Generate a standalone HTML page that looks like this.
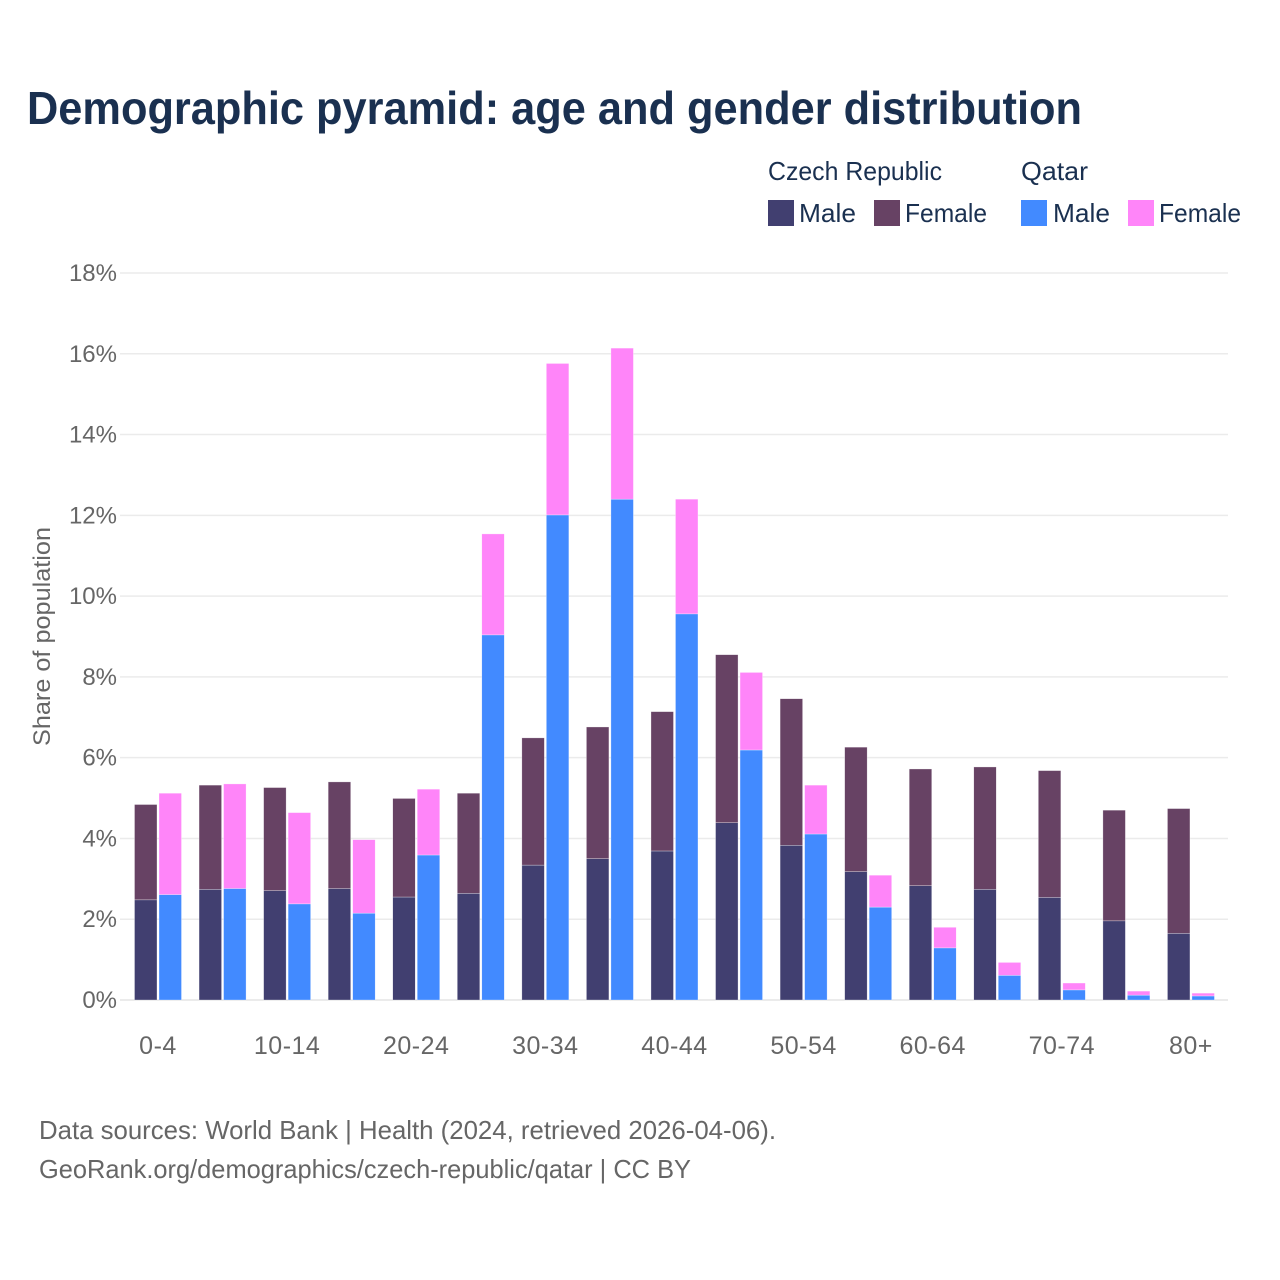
<!DOCTYPE html>
<html lang="en">
<head>
<meta charset="utf-8">
<title>Demographic pyramid: age and gender distribution</title>
<style>
html,body{margin:0;padding:0;background:#fff;}
svg{display:block;font-family:"Liberation Sans",sans-serif;}
</style>
</head>
<body>
<svg id="chart" xmlns="http://www.w3.org/2000/svg" width="1280" height="1280" viewBox="0 0 1280 1280">
  <rect x="0" y="0" width="1280" height="1280" fill="#ffffff"/>
  <text x="27" y="124" font-size="46" font-weight="700" fill="#1a3050" textLength="1055" lengthAdjust="spacingAndGlyphs">Demographic pyramid: age and gender distribution</text>
  <g id="grid"></g>
  <g id="bars"></g>
  <g id="yticks"></g>
  <g id="xticks"></g>
  <text transform="translate(50,636.5) rotate(-90)" text-anchor="middle" font-size="24" fill="#666666" textLength="219" lengthAdjust="spacingAndGlyphs">Share of population</text>
  <g font-size="26" fill="#1a3050">
    <text x="768" y="180" textLength="174" lengthAdjust="spacingAndGlyphs">Czech Republic</text>
    <text x="1021" y="180" textLength="67" lengthAdjust="spacingAndGlyphs">Qatar</text>
    <rect x="768" y="200" width="26" height="26" fill="#413f70"/>
    <text x="799" y="222" textLength="57" lengthAdjust="spacingAndGlyphs">Male</text>
    <rect x="874" y="200" width="26" height="26" fill="#674264"/>
    <text x="905" y="222" textLength="82" lengthAdjust="spacingAndGlyphs">Female</text>
    <rect x="1021" y="200" width="26" height="26" fill="#428aff"/>
    <text x="1053" y="222" textLength="57" lengthAdjust="spacingAndGlyphs">Male</text>
    <rect x="1128" y="200" width="26" height="26" fill="#ff85f9"/>
    <text x="1159" y="222" textLength="82" lengthAdjust="spacingAndGlyphs">Female</text>
  </g>
  <text x="39" y="1139" font-size="26" fill="#666666" textLength="737" lengthAdjust="spacingAndGlyphs">Data sources: World Bank | Health (2024, retrieved 2026-04-06).</text>
  <text x="39" y="1178" font-size="26" fill="#666666" textLength="652" lengthAdjust="spacingAndGlyphs">GeoRank.org/demographics/czech-republic/qatar | CC BY</text>
</svg>
<script>
var categories = ["0-4","5-9","10-14","15-19","20-24","25-29","30-34","35-39","40-44","45-49","50-54","55-59","60-64","65-69","70-74","75-79","80+"];
var czechMale = [2.48,2.74,2.71,2.76,2.55,2.64,3.34,3.50,3.69,4.39,3.83,3.18,2.83,2.74,2.54,1.96,1.65];
var czechFemale = [2.36,2.58,2.55,2.64,2.44,2.48,3.15,3.26,3.45,4.16,3.63,3.08,2.89,3.03,3.14,2.74,3.09];
var qatarMale = [2.61,2.76,2.38,2.15,3.59,9.04,12.01,12.40,9.56,6.19,4.11,2.30,1.29,0.61,0.25,0.12,0.10];
var qatarFemale = [2.51,2.59,2.26,1.82,1.63,2.50,3.75,3.74,2.84,1.92,1.21,0.79,0.51,0.32,0.17,0.10,0.07];
var yTicks = [0,2,4,6,8,10,12,14,16,18];

var NS = 'http://www.w3.org/2000/svg';
var plotBottom = 1000, plotTop = 273, yMax = 18;
var gridLeft = 120, gridRight = 1228;
var firstCenter = 158, step = 64.56, barWidth = 22.5, barGap = 2;

function yScale(v) { return plotBottom - (v / yMax) * (plotBottom - plotTop); }
function xCenter(i) { return firstCenter + i * step; }

function make(tag, attrs, parent) {
  var el = document.createElementNS(NS, tag);
  for (var k in attrs) el.setAttribute(k, attrs[k]);
  parent.appendChild(el);
  return el;
}

var gridG = document.getElementById('grid');
var yG = document.getElementById('yticks');
var xG = document.getElementById('xticks');
var barsG = document.getElementById('bars');

yTicks.forEach(function (t) {
  var line = make('line', {x1: gridLeft, x2: gridRight, y1: yScale(t), y2: yScale(t), stroke: '#ebebeb', 'stroke-width': t === 0 ? 2 : 1.5}, gridG);
  
  
  var label = make('text', {x: 117, y: yScale(t) + 8, 'text-anchor': 'end', 'font-size': 24, fill: '#666666'}, yG);
  
  
  label.textContent = t + '%';
});

categories.forEach(function (c, i) {
  if (i % 2 === 0) {
    var label = make('text', {x: xCenter(i), y: 1054, 'text-anchor': 'middle', 'font-size': 25, 'letter-spacing': 0.5, fill: '#666666'}, xG);
    
    
    label.textContent = c;
  }
});

function drawSeries(lower, upper, left, lowerFill, upperFill, key) {
  categories.forEach(function (c, i) {
    var x = left ? xCenter(i) - barGap / 2 - barWidth : xCenter(i) + barGap / 2;
    var m = lower[i], f = upper[i];
    var r1 = make('rect', {x: x, y: yScale(m), width: barWidth, height: yScale(0) - yScale(m), fill: lowerFill, stroke: '#ffffff', 'stroke-width': 0.5, 'stroke-opacity': 0.6}, barsG);
    
    
    var r2 = make('rect', {x: x, y: yScale(m + f), width: barWidth, height: yScale(m) - yScale(m + f), fill: upperFill, stroke: '#ffffff', 'stroke-width': 0.5, 'stroke-opacity': 0.6}, barsG);
    
    
  });
}
drawSeries(czechMale, czechFemale, true, '#413f70', '#674264', 'czech');
drawSeries(qatarMale, qatarFemale, false, '#428aff', '#ff85f9', 'qatar');
</script>
</body>
</html>
